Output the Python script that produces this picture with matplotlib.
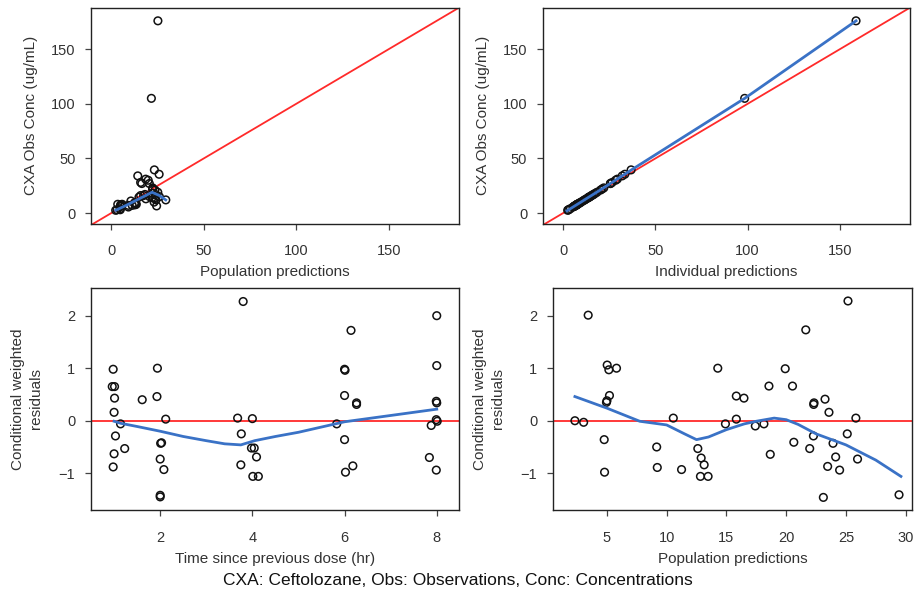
import numpy as np
import matplotlib
matplotlib.use("Agg")
import matplotlib.pyplot as plt

plt.rcParams['font.family'] = ['Liberation Sans', 'DejaVu Sans']

# ---------- data ----------
# population predictions / CWRES (bottom right) and obs conc (top left)
pred = [2.33, 3.06, 3.44, 4.78, 4.81, 4.97, 5.01, 5.03, 5.17, 5.22, 5.81,
        9.17, 9.22, 10.56, 11.25, 12.61, 12.83, 12.89, 13.14, 13.47, 14.28,
        14.92, 15.83, 15.83, 16.47, 17.42, 18.14, 18.56, 18.67, 19.92, 20.53,
        20.64, 21.64, 21.97, 22.28, 22.30, 22.33, 23.11, 23.25, 23.47, 23.58,
        23.92, 24.14, 24.47, 25.11, 25.17, 25.83, 25.97, 29.44]
cwres_pred = [0.00, -0.03, 2.01, -0.36, -0.98, 0.35, 0.38, 1.06, 0.97, 0.48, 1.00,
              -0.50, -0.89, 0.05, -0.93, -0.53, -1.06, -0.71, -0.84, -1.06, 1.00,
              -0.06, 0.47, 0.03, 0.43, -0.10, -0.06, 0.66, -0.64, 0.99, 0.66,
              -0.41, 1.73, -0.53, -0.29, 0.31, 0.34, -1.46, 0.41, -0.87, 0.16,
              -0.43, -0.69, -0.94, -0.25, 2.28, 0.05, -0.73, -1.41]
obs = [2.5, 3.0, 8.0, 4.0, 3.0, 6.0, 6.2, 7.5, 7.3, 6.5, 8.0,
       7.0, 5.5, 11.0, 7.0, 9.5, 7.5, 9.0, 8.5, 8.0, 34.0,
       14.5, 28.0, 16.0, 27.0, 16.0, 17.0, 31.0, 13.0, 30.0, 27.0,
       15.0, 105.0, 14.0, 18.0, 22.0, 23.0, 10.0, 39.5, 14.0, 21.0,
       17.0, 12.0, 6.5, 19.0, 176.0, 35.5, 15.0, 12.0]
ipred = [2.4, 2.9, 7.6, 3.9, 2.9, 5.8, 6.0, 7.2, 7.0, 6.3, 7.7,
         6.8, 5.3, 10.6, 6.8, 9.2, 7.3, 8.7, 8.2, 7.8, 32.0,
         14.0, 26.5, 15.4, 25.6, 15.4, 16.4, 29.3, 12.6, 28.4, 25.6,
         14.5, 98.4, 13.5, 17.3, 21.1, 22.0, 9.7, 36.8, 13.5, 20.2,
         16.4, 11.6, 6.3, 18.3, 158.8, 33.4, 14.5, 11.6]

# time since previous dose / CWRES (bottom left)
tad = [0.98, 0.96, 1.01, 1.01, 1.0, 1.14, 1.03, 1.0, 0.98, 1.23, 1.61,
       1.94, 1.93, 2.12, 2.03, 2.01, 2.0, 2.08, 2.0, 2.0,
       3.80, 3.68, 4.0, 3.76, 3.98, 4.04, 4.09, 3.75, 4.01, 4.13,
       6.14, 6.0, 6.01, 6.0, 6.26, 6.26, 5.83, 6.0, 6.18, 6.02,
       8.0, 8.0, 7.99, 8.0, 7.99, 8.01, 7.88, 7.84, 7.99]
cwres_tad = [0.98, 0.65, 0.65, 0.43, 0.16, -0.06, -0.29, -0.63, -0.88, -0.53, 0.40,
             1.00, 0.46, 0.03, -0.42, -0.43, -0.73, -0.93, -1.42, -1.45,
             2.27, 0.05, 0.04, -0.25, -0.52, -0.52, -0.69, -0.84, -1.06, -1.06,
             1.72, 0.98, 0.96, 0.48, 0.31, 0.34, -0.06, -0.36, -0.86, -0.98,
             2.00, 1.05, 0.37, 0.34, 0.02, -0.01, -0.09, -0.70, -0.94]

# smoother lines
smooth_pred_x = [2.3, 8, 15, 22, 26, 29.4]
smooth_pred_y = [2.5, 7, 13, 19, 16, 12]
smooth_ipred_x = [2, 20, 37, 98.4, 158.8]
smooth_ipred_y = [2, 21, 39.5, 105, 176]
smooth_tad_x = [1.0, 1.15, 1.5, 2.0, 2.5, 3.0, 3.4, 3.75, 4.05, 4.5, 5.0, 5.5,
                6.0, 7.0, 8.0]
smooth_tad_y = [-0.01, -0.05, -0.11, -0.20, -0.30, -0.38, -0.44, -0.46, -0.38,
                -0.30, -0.22, -0.12, -0.02, 0.10, 0.22]
smooth_res_x = [2.33, 5, 7.75, 10, 11.5, 12.5, 13.5, 15, 16.5, 17.5, 19, 20,
                21, 22.5, 25, 27.5, 29.6]
smooth_res_y = [0.46, 0.24, -0.01, -0.08, -0.25, -0.36, -0.31, -0.17, -0.06,
                -0.01, 0.05, 0.02, -0.07, -0.25, -0.46, -0.75, -1.06]

RED = "#ff2a2a"
BLUE = "#3a72c6"
TXT = "#333333"

fig = plt.figure(figsize=(9.15, 5.94), dpi=100)
ax1 = fig.add_axes([0.0995, 0.623, 0.402, 0.364])
ax2 = fig.add_axes([0.5934, 0.623, 0.401, 0.364])
ax3 = fig.add_axes([0.0995, 0.1414, 0.402, 0.374])
ax4 = fig.add_axes([0.6044, 0.1414, 0.392, 0.374])


def scatter(ax, x, y):
    ax.scatter(x, y, s=30, facecolors="none", edgecolors="#111111",
               linewidths=1.1, zorder=3)


def style(ax):
    for s in ax.spines.values():
        s.set_linewidth(1.0)
        s.set_color("#222222")
    ax.tick_params(direction="out", length=4.3, width=0.9, labelsize=10.5,
                   labelcolor=TXT, color="#444444")
    ax.tick_params(axis="x", pad=10.5)
    ax.tick_params(axis="y", pad=7)


# ---------- top left ----------
scatter(ax1, pred, obs)
ax1.axline((0, 0), slope=1, color=RED, lw=1.3, zorder=2)
ax1.plot(smooth_pred_x, smooth_pred_y, color=BLUE, lw=2, zorder=4)
ax1.set_xlim(-11, 188)
ax1.set_ylim(-10, 188)
ax1.set_xticks([0, 50, 100, 150])
ax1.set_yticks([0, 50, 100, 150])
ax1.set_xlabel("Population predictions", fontsize=11, color=TXT, labelpad=5)
ax1.set_ylabel("CXA Obs Conc (ug/mL)", fontsize=11, color=TXT, labelpad=9)
style(ax1)

# ---------- top right ----------
scatter(ax2, ipred, obs)
ax2.axline((0, 0), slope=1, color=RED, lw=1.3, zorder=2)
ax2.plot(smooth_ipred_x, smooth_ipred_y, color=BLUE, lw=2, zorder=4)
ax2.set_xlim(-11, 188)
ax2.set_ylim(-10, 188)
ax2.set_xticks([0, 50, 100, 150])
ax2.set_yticks([0, 50, 100, 150])
ax2.set_xlabel("Individual predictions", fontsize=11, color=TXT, labelpad=5)
ax2.set_ylabel("CXA Obs Conc (ug/mL)", fontsize=11, color=TXT, labelpad=9)
style(ax2)

# ---------- bottom left ----------
scatter(ax3, tad, cwres_tad)
ax3.axhline(0, color=RED, lw=1.3, zorder=2)
ax3.plot(smooth_tad_x, smooth_tad_y, color=BLUE, lw=2, zorder=4)
ax3.set_xlim(0.5, 8.48)
ax3.set_ylim(-1.7, 2.53)
ax3.set_xticks([2, 4, 6, 8])
ax3.set_yticks([-1, 0, 1, 2])
ax3.set_xlabel("Time since previous dose (hr)", fontsize=11, color=TXT, labelpad=5)
ax3.set_ylabel("Conditional weighted\nresiduals", fontsize=11, color=TXT,
               labelpad=11, linespacing=1.4)
style(ax3)

# ---------- bottom right ----------
scatter(ax4, pred, cwres_pred)
ax4.axhline(0, color=RED, lw=1.3, zorder=2)
ax4.plot(smooth_res_x, smooth_res_y, color=BLUE, lw=2, zorder=4)
ax4.set_xlim(0.5, 30.5)
ax4.set_ylim(-1.7, 2.53)
ax4.set_xticks([5, 10, 15, 20, 25, 30])
ax4.set_yticks([-1, 0, 1, 2])
ax4.set_xlabel("Population predictions", fontsize=11, color=TXT, labelpad=5)
ax4.set_ylabel("Conditional weighted\nresiduals", fontsize=11, color=TXT,
               labelpad=11, linespacing=1.4)
style(ax4)

fig.text(0.5, 0.023, "CXA: Ceftolozane, Obs: Observations, Conc: Concentrations",
         ha="center", va="center", fontsize=12.5, color="#111111")

fig.savefig("out.png", dpi=100)
